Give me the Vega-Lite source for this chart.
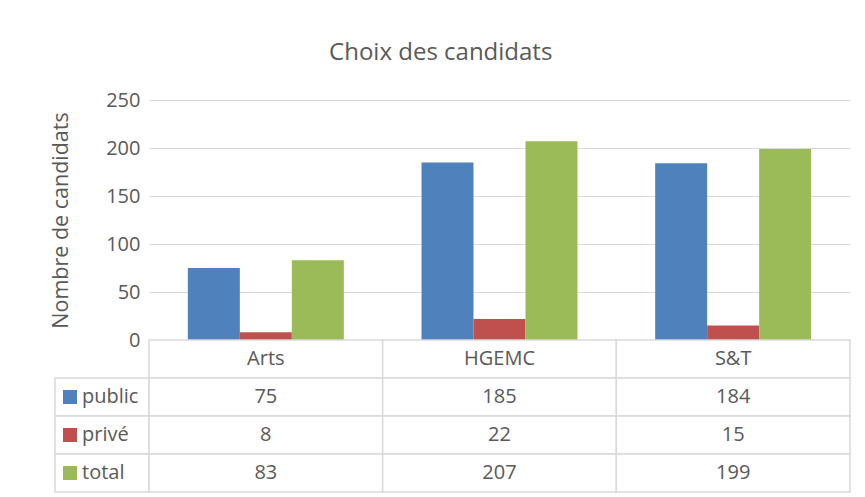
{
  "$schema": "https://vega.github.io/schema/vega-lite/v6.json",
  "background": "white",
  "padding": {"left": 50, "top": 41, "right": 10, "bottom": 5},
  "title": {"text": "Choix des candidats", "anchor": "middle", "fontSize": 24, "font": "Open Sans", "fontWeight": "normal", "color": "#595959", "offset": 25, "dx": -10},
  "datasets": {
    "counts": [
      {"cat": "Arts", "serie": "public", "value": 75},
      {"cat": "Arts", "serie": "privé", "value": 8},
      {"cat": "Arts", "serie": "total", "value": 83},
      {"cat": "HGEMC", "serie": "public", "value": 185},
      {"cat": "HGEMC", "serie": "privé", "value": 22},
      {"cat": "HGEMC", "serie": "total", "value": 207},
      {"cat": "S&T", "serie": "public", "value": 184},
      {"cat": "S&T", "serie": "privé", "value": 15},
      {"cat": "S&T", "serie": "total", "value": 199}
    ],
    "cats": [{"cat": "Arts"}, {"cat": "HGEMC"}, {"cat": "S&T"}],
    "series": [{"serie": "public"}, {"serie": "privé"}, {"serie": "total"}]
  },
  "columns": 2,
  "spacing": 0,
  "bounds": "flush",
  "concat": [
    {
      "width": 94,
      "height": 240,
      "data": {"values": [{"k": 1}]},
      "mark": {"type": "text", "text": ""},
      "encoding": {}
    },
    {
      "width": 701,
      "height": 240,
      "data": {"name": "counts"},
      "mark": {"type": "bar"},
      "encoding": {
        "x": {"field": "cat", "type": "nominal", "sort": ["Arts", "HGEMC", "S&T"], "scale": {"paddingInner": 0.3325, "paddingOuter": 0.16625}, "axis": null},
        "xOffset": {"field": "serie", "type": "nominal", "sort": ["public", "privé", "total"]},
        "y": {
          "field": "value", "type": "quantitative",
          "scale": {"domain": [0, 250]},
          "axis": {
            "values": [0, 50, 100, 150, 200, 250],
            "title": "Nombre de candidats",
            "grid": true, "gridColor": "#D9D9D9", "gridWidth": 1.2,
            "domain": false, "ticks": false,
            "labelPadding": 9, "labelFontSize": 20, "labelColor": "#595959", "labelFont": "Open Sans",
            "titleFontSize": 21.5, "titleFontWeight": "normal", "titleColor": "#595959", "titleFont": "Open Sans", "titlePadding": 33
          }
        },
        "color": {"field": "serie", "type": "nominal", "scale": {"domain": ["public", "privé", "total"], "range": ["#4F81BD", "#C0504D", "#9BBB59"]}, "legend": null}
      }
    },
    {
      "width": 94,
      "height": 152,
      "layer": [
        {
          "data": {"name": "series"},
          "mark": {"type": "rect", "fill": "white", "stroke": "#D9D9D9", "strokeWidth": 1.5},
          "encoding": {
            "y": {"field": "serie", "type": "nominal", "scale": {"type": "band", "domain": ["hdr", "public", "privé", "total"], "paddingInner": 0, "paddingOuter": 0}, "axis": null}
          }
        },
        {
          "data": {"name": "series"},
          "mark": {"type": "point", "shape": "square", "filled": true, "size": 196, "opacity": 1},
          "encoding": {
            "x": {"datum": "sq", "type": "nominal", "scale": {"type": "point", "domain": ["sq", "lbl"], "range": [15, 27], "padding": 0}, "axis": null},
            "y": {"field": "serie", "type": "nominal"},
            "color": {"field": "serie", "type": "nominal", "legend": null}
          }
        },
        {
          "data": {"name": "series"},
          "mark": {"type": "text", "align": "left", "baseline": "middle", "fontSize": 20, "font": "Open Sans", "color": "#595959"},
          "encoding": {
            "x": {"datum": "lbl", "type": "nominal"},
            "y": {"field": "serie", "type": "nominal"},
            "text": {"field": "serie"}
          }
        }
      ]
    },
    {
      "width": 701,
      "height": 152,
      "layer": [
        {
          "data": {"name": "cats"},
          "mark": {"type": "rect", "fill": "white", "stroke": "#D9D9D9", "strokeWidth": 1.5},
          "encoding": {
            "x": {"field": "cat", "type": "nominal", "scale": {"type": "band", "domain": ["Arts", "HGEMC", "S&T"], "paddingInner": 0, "paddingOuter": 0}, "axis": null},
            "y": {"datum": "hdr", "type": "nominal", "scale": {"type": "band", "domain": ["hdr", "public", "privé", "total"], "paddingInner": 0, "paddingOuter": 0}, "axis": null}
          }
        },
        {
          "data": {"name": "counts"},
          "mark": {"type": "rect", "fill": "white", "stroke": "#D9D9D9", "strokeWidth": 1.5},
          "encoding": {
            "x": {"field": "cat", "type": "nominal"},
            "y": {"field": "serie", "type": "nominal"}
          }
        },
        {
          "data": {"name": "cats"},
          "mark": {"type": "text", "baseline": "middle", "fontSize": 20, "font": "Open Sans", "color": "#595959"},
          "encoding": {
            "x": {"field": "cat", "type": "nominal"},
            "y": {"datum": "hdr", "type": "nominal"},
            "text": {"field": "cat"}
          }
        },
        {
          "data": {"name": "counts"},
          "mark": {"type": "text", "baseline": "middle", "fontSize": 20, "font": "Open Sans", "color": "#595959"},
          "encoding": {
            "x": {"field": "cat", "type": "nominal"},
            "y": {"field": "serie", "type": "nominal"},
            "text": {"field": "value"}
          }
        }
      ]
    }
  ],
  "config": {
    "view": {"stroke": null},
    "font": "Open Sans"
  }
}
